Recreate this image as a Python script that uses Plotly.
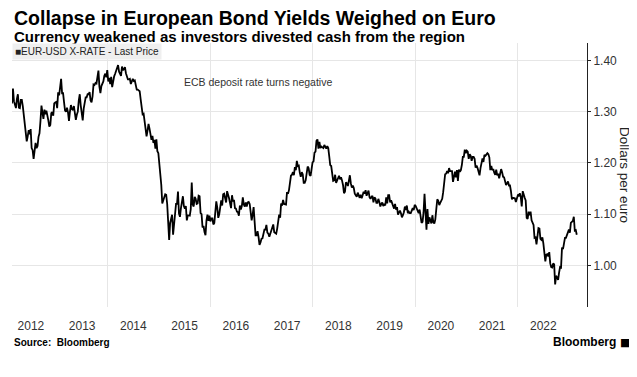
import pandas as pd
import plotly.graph_objects as go

# Weekly (Friday) EUR-USD values, starting 2012-02-17
eur_2012 = [1.316, 1.345,
            1.320, 1.312, 1.307, 1.325, 1.334,
            1.308, 1.307, 1.323, 1.323,
            1.311, 1.292, 1.278, 1.252,
            1.242, 1.252, 1.264, 1.256, 1.266,
            1.229, 1.225, 1.208, 1.231,
            1.239, 1.229, 1.233, 1.251, 1.258,
            1.282, 1.312, 1.298, 1.286,
            1.304, 1.295, 1.302, 1.294,
            1.283, 1.271, 1.274, 1.297, 1.299,
            1.292, 1.316, 1.318, 1.319]
eur_2013 = [1.307, 1.338, 1.332, 1.346,
            1.364, 1.336, 1.336, 1.318,
            1.302, 1.300, 1.308, 1.299, 1.282,
            1.300, 1.313, 1.305, 1.303,
            1.311, 1.299, 1.284, 1.294, 1.300,
            1.322, 1.334, 1.312, 1.301,
            1.283, 1.306, 1.314, 1.328,
            1.328, 1.334, 1.334, 1.338, 1.322,
            1.318, 1.330, 1.353, 1.352,
            1.356, 1.355, 1.368, 1.380,
            1.349, 1.336, 1.350, 1.355, 1.359,
            1.370, 1.374, 1.367, 1.381]
eur_2014 = [1.359, 1.366, 1.354, 1.368, 1.348,
            1.363, 1.369, 1.374, 1.381,
            1.387, 1.391, 1.378, 1.375,
            1.370, 1.388, 1.381, 1.383,
            1.387, 1.375, 1.370, 1.363, 1.363,
            1.364, 1.354, 1.360, 1.364,
            1.360, 1.361, 1.352, 1.343,
            1.343, 1.341, 1.340, 1.324, 1.313,
            1.295, 1.296, 1.283, 1.268,
            1.252, 1.263, 1.276, 1.267, 1.252,
            1.245, 1.253, 1.239, 1.245,
            1.228, 1.246, 1.223, 1.219]
eur_2015 = [1.200, 1.184, 1.157, 1.121, 1.129,
            1.131, 1.139, 1.138, 1.120,
            1.085, 1.050, 1.083, 1.089,
            1.099, 1.060, 1.081, 1.087,
            1.120, 1.120, 1.144, 1.101, 1.095,
            1.112, 1.126, 1.135, 1.116,
            1.111, 1.116, 1.088, 1.098, 1.098,
            1.097, 1.110, 1.162, 1.119,
            1.115, 1.134, 1.130, 1.120,
            1.121, 1.136, 1.135, 1.102, 1.100,
            1.074, 1.077, 1.065, 1.059,
            1.088, 1.099, 1.087, 1.097]
eur_2016 = [1.086, 1.092, 1.092, 1.080, 1.083,
            1.116, 1.125, 1.113, 1.093,
            1.100, 1.115, 1.127, 1.117,
            1.139, 1.140, 1.128, 1.123, 1.145,
            1.140, 1.131, 1.122, 1.112,
            1.137, 1.125, 1.128, 1.112,
            1.111, 1.105, 1.104, 1.097, 1.117,
            1.109, 1.116, 1.133, 1.119,
            1.115, 1.123, 1.115, 1.123, 1.124,
            1.120, 1.097, 1.088, 1.099,
            1.114, 1.086, 1.059, 1.059,
            1.067, 1.056, 1.040, 1.045, 1.052]
eur_2017 = [1.053, 1.064, 1.070, 1.070,
            1.079, 1.064, 1.062, 1.056,
            1.062, 1.067, 1.074, 1.080, 1.065,
            1.064, 1.062, 1.072, 1.090,
            1.099, 1.093, 1.121, 1.117,
            1.128, 1.120, 1.119, 1.119, 1.143,
            1.140, 1.147, 1.166, 1.175,
            1.177, 1.182, 1.176, 1.192,
            1.186, 1.204, 1.194, 1.195, 1.181,
            1.173, 1.182, 1.178, 1.161,
            1.161, 1.166, 1.180, 1.193,
            1.190, 1.177, 1.175, 1.186, 1.201]
eur_2018 = [1.203, 1.220, 1.222, 1.243,
            1.246, 1.228, 1.241, 1.229,
            1.232, 1.230, 1.229, 1.235, 1.232,
            1.228, 1.233, 1.229, 1.213,
            1.196, 1.194, 1.177, 1.165,
            1.166, 1.177, 1.161, 1.166, 1.168,
            1.175, 1.168, 1.172, 1.166,
            1.157, 1.141, 1.144, 1.162, 1.160,
            1.155, 1.163, 1.176, 1.160,
            1.152, 1.156, 1.151, 1.140,
            1.138, 1.134, 1.142, 1.134, 1.132,
            1.138, 1.131, 1.137, 1.144]
eur_2019 = [1.140, 1.147, 1.136, 1.141,
            1.146, 1.133, 1.130, 1.134,
            1.136, 1.123, 1.133, 1.131, 1.122,
            1.122, 1.130, 1.124, 1.115,
            1.120, 1.123, 1.116, 1.120, 1.117,
            1.133, 1.121, 1.137, 1.137,
            1.123, 1.127, 1.122, 1.113,
            1.111, 1.120, 1.109, 1.114, 1.099,
            1.103, 1.107, 1.102, 1.094,
            1.098, 1.104, 1.115, 1.108,
            1.117, 1.102, 1.105, 1.102, 1.102,
            1.106, 1.112, 1.108, 1.118]
eur_2020 = [1.116, 1.112, 1.109, 1.102, 1.109,
            1.094, 1.083, 1.085, 1.103,
            1.140, 1.111, 1.070, 1.110,
            1.081, 1.094, 1.087, 1.082,
            1.098, 1.084, 1.082, 1.090, 1.110,
            1.129, 1.126, 1.118, 1.122,
            1.125, 1.130, 1.143, 1.166, 1.178,
            1.179, 1.184, 1.180, 1.190,
            1.184, 1.184, 1.184, 1.163,
            1.171, 1.183, 1.172, 1.186, 1.165,
            1.187, 1.183, 1.186, 1.196,
            1.212, 1.212, 1.226, 1.219]
eur_2021 = [1.224, 1.222, 1.208, 1.217, 1.214,
            1.204, 1.212, 1.212, 1.208,
            1.191, 1.195, 1.190, 1.179,
            1.176, 1.190, 1.198, 1.209, 1.202,
            1.216, 1.214, 1.218, 1.219,
            1.217, 1.211, 1.186, 1.194,
            1.186, 1.188, 1.181, 1.177, 1.187,
            1.176, 1.179, 1.170, 1.179,
            1.188, 1.182, 1.173, 1.172,
            1.160, 1.157, 1.160, 1.164, 1.156,
            1.156, 1.145, 1.129, 1.132,
            1.131, 1.131, 1.124, 1.132, 1.137]
eur_2022 = [1.136, 1.141, 1.134, 1.115,
            1.145, 1.135, 1.132, 1.127,
            1.093, 1.091, 1.105, 1.098,
            1.105, 1.088, 1.081, 1.079, 1.054,
            1.055, 1.041, 1.056, 1.073,
            1.072, 1.052, 1.050, 1.055,
            1.043, 1.018, 1.008, 1.021, 1.022,
            1.018, 1.026, 1.004, 0.997,
            0.996, 1.004, 1.002, 0.963, 0.980,
            0.974, 0.972, 0.986, 0.997,
            0.996, 1.035, 1.032, 1.040,
            1.054, 1.054, 1.059, 1.062, 1.070]
eur_2023 = [1.064, 1.083, 1.085, 1.087,
            1.095, 1.068, 1.069, 1.060]

values = (eur_2012 + eur_2013 + eur_2014 + eur_2015 + eur_2016 + eur_2017 +
          eur_2018 + eur_2019 + eur_2020 + eur_2021 + eur_2022 + eur_2023)
dates = pd.date_range("2012-02-17", periods=len(values), freq="W-FRI")

year_labels = [str(y) for y in range(2012, 2023)]
label_dates = [f"{y}-07-01" for y in range(2012, 2023)]
grid_dates = ["2014-01-01", "2016-01-01", "2018-01-01", "2020-01-01", "2022-01-01"]
y_ticks = [1.00, 1.10, 1.20, 1.30, 1.40]
x_range = ["2012-02-17", "2023-05-08"]
y_range = [0.919, 1.434]

REG = "Liberation Sans, Arial, sans-serif"

fig = go.Figure()
fig.add_trace(go.Scatter(x=dates, y=values, mode="lines",
                         line=dict(color="#000000", width=1.8),
                         name="EUR-USD X-RATE - Last Price", showlegend=False))

# page body adds an 8px offset, so the figure is 8px smaller than the window
fig.update_layout(
    width=629, height=369,
    margin=dict(l=4, r=50, t=35, b=70),
    paper_bgcolor="white", plot_bgcolor="white",
    showlegend=False,
    xaxis=dict(type="date", range=x_range,
               tickmode="array", tickvals=label_dates, ticktext=year_labels,
               showgrid=False, ticks="", zeroline=False, showline=False,
               tickfont=dict(family=REG, size=12, color="#333333"),
               ticklabelstandoff=10,
               minor=dict(tickmode="array", tickvals=grid_dates, showgrid=True,
                          gridcolor="#e6e6e6", gridwidth=1, ticks="")),
    yaxis=dict(side="right", range=y_range, tickvals=y_ticks,
               ticktext=[f"{v:.2f}" for v in y_ticks],
               showgrid=True, gridcolor="#e6e6e6", gridwidth=1,
               showline=True, linecolor="#222222", linewidth=1,
               ticks="outside", ticklen=3, tickcolor="#222222",
               zeroline=False,
               tickfont=dict(family=REG, size=12, color="#333333")),
)

ann = []
ann.append(dict(text="<b>Collapse in European Bond Yields Weighed on Euro</b>",
                xref="paper", yref="paper", x=0, y=1.095, xanchor="left", yanchor="middle",
                showarrow=False, font=dict(family=REG, size=19.5, color="#000000")))
ann.append(dict(text="<b>Currency weakened as investors divested cash from the region</b>",
                xref="paper", yref="paper", x=0, y=1.0255, xanchor="left", yanchor="middle",
                showarrow=False, font=dict(family=REG, size=15, color="#000000")))
ann.append(dict(text="■EUR-USD X-RATE - Last Price",
                xref="paper", yref="paper", x=0, y=1, xanchor="left", yanchor="top",
                showarrow=False, bgcolor="#efefef", borderpad=2,
                font=dict(family=REG, size=10, color="#222222")))
ann.append(dict(text="ECB deposit rate turns negative",
                xref="paper", yref="paper", x=0.428, y=0.852, xanchor="center", yanchor="middle",
                showarrow=False, font=dict(family=REG, size=10.5, color="#333333")))
ann.append(dict(text="Dollars per euro",
                xref="paper", yref="paper", x=1.066, y=0.5, xanchor="center", yanchor="middle",
                textangle=90, showarrow=False,
                font=dict(family=REG, size=13.5, color="#222222")))
ann.append(dict(text="<b>Source:  Bloomberg</b>",
                xref="paper", yref="paper", x=0, y=-0.1326, xanchor="left", yanchor="middle",
                showarrow=False, font=dict(family=REG, size=10, color="#000000")))
ann.append(dict(text="<b>Bloomberg</b>",
                xref="paper", yref="paper", x=1.054, y=-0.1326, xanchor="right", yanchor="middle",
                showarrow=False, font=dict(family=REG, size=12, color="#000000")))
ann.append(dict(text="■",
                xref="paper", yref="paper", x=1.066, y=-0.1326, xanchor="center", yanchor="middle",
                showarrow=False, font=dict(family="DejaVu Sans", size=11, color="#000000")))
fig.update_layout(annotations=ann)

fig.write_html("out.html")
